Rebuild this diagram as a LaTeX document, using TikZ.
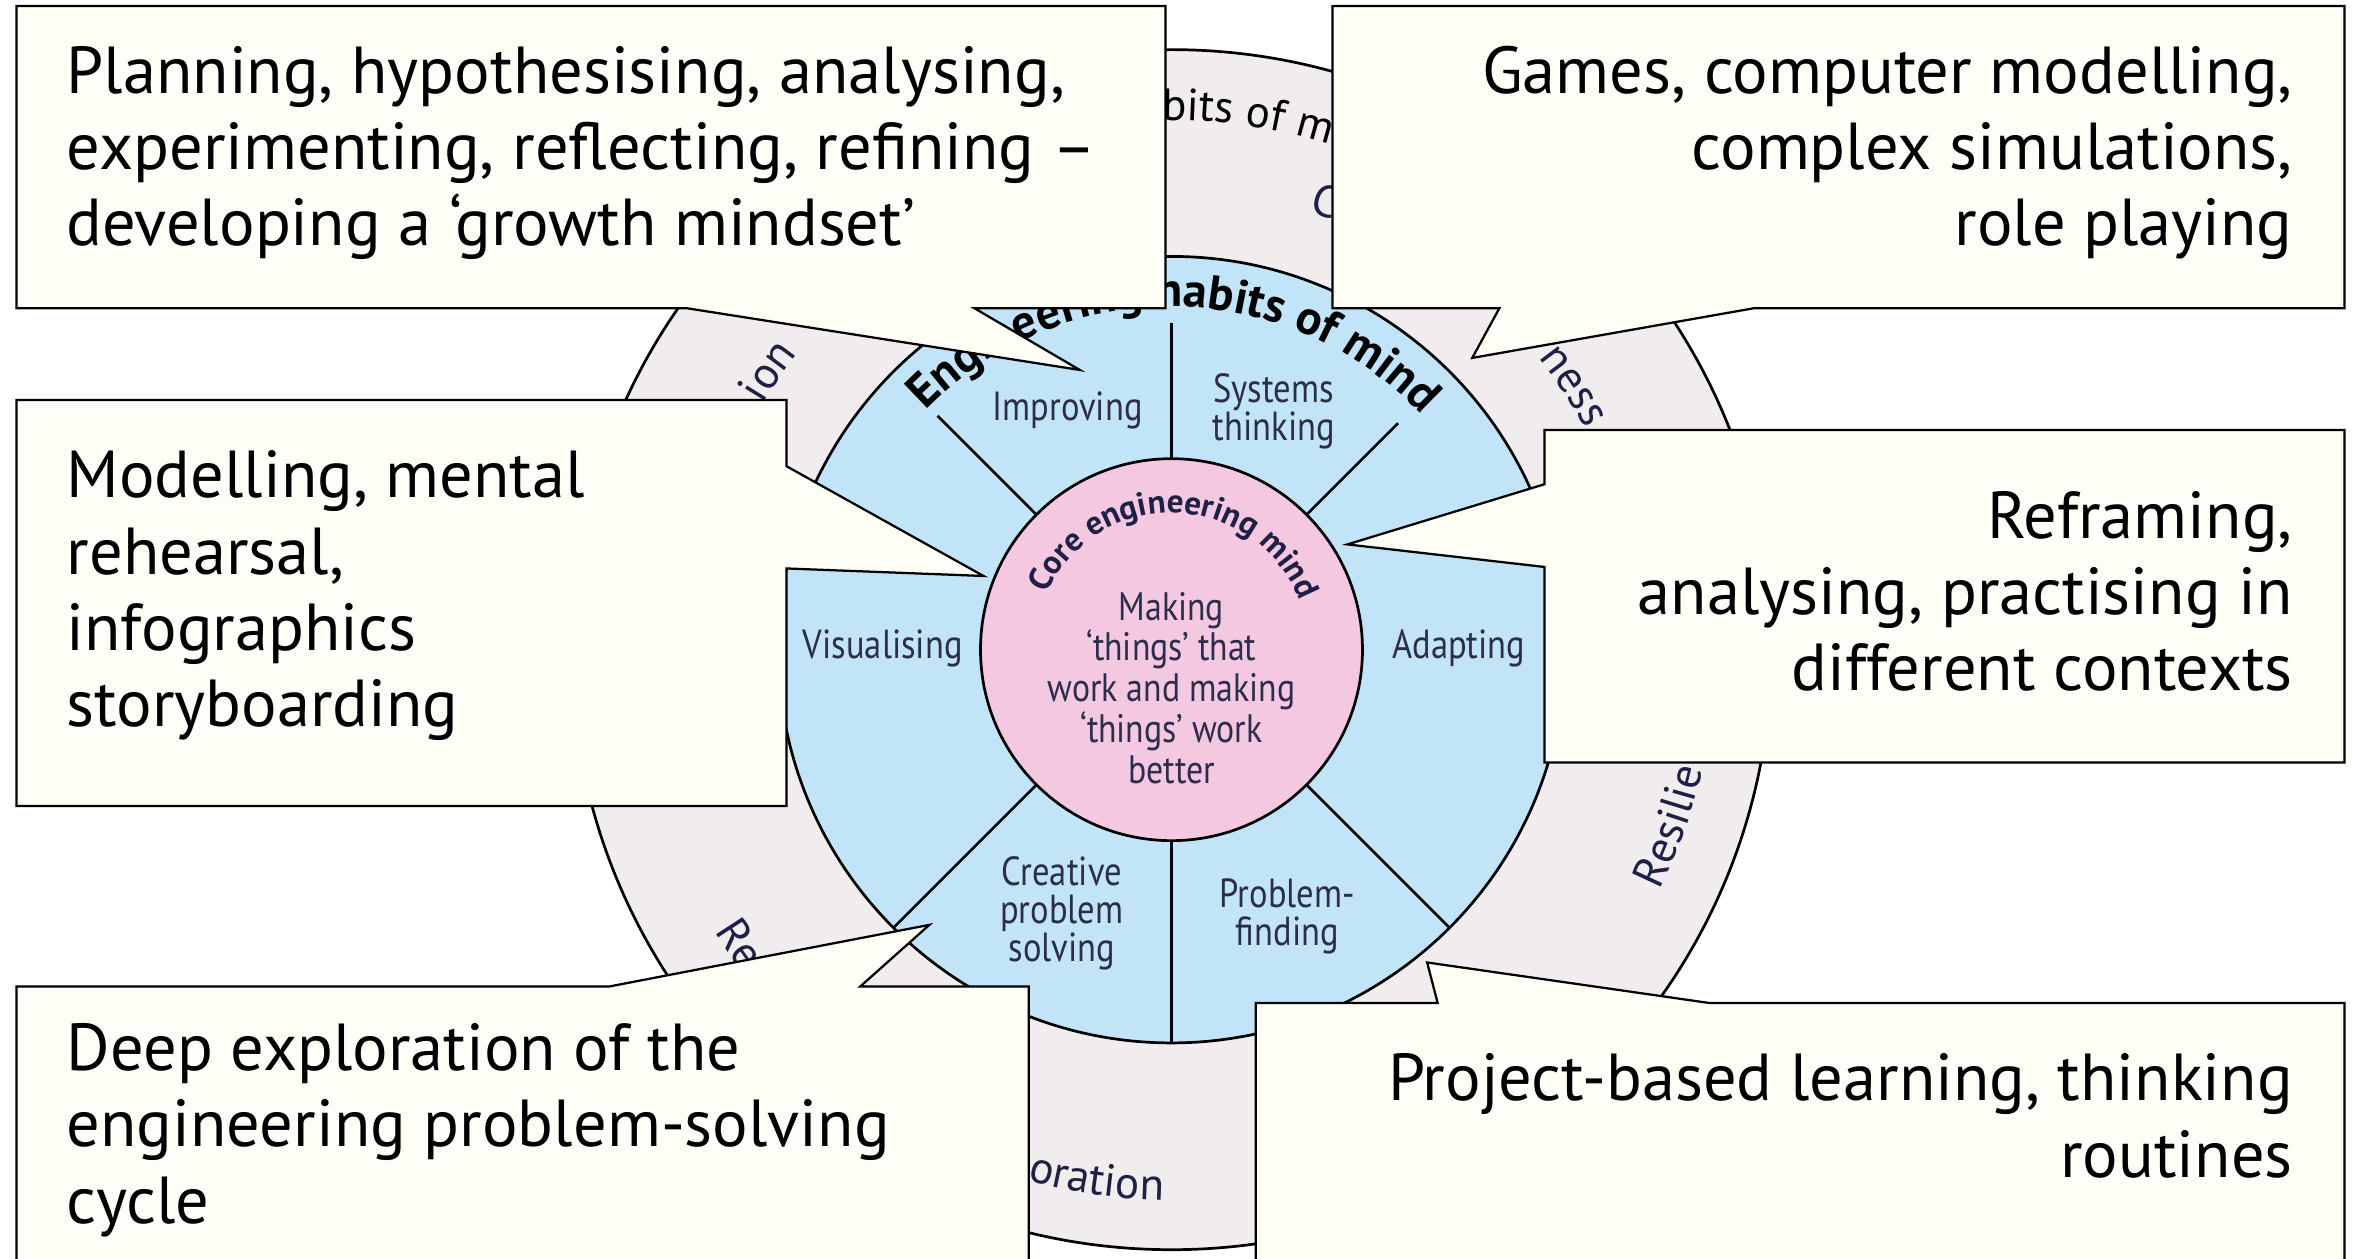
\documentclass[tikz,border=0pt]{standalone}
\usepackage{fontspec}
\setmainfont{PT Sans}
\newfontfamily\cfont{PT Sans}
\newfontfamily\dfont[FakeStretch=0.85]{PT Sans}
\newfontfamily\ofont{PT Sans}
\usetikzlibrary{decorations.text}
\definecolor{ringgray}{RGB}{241,237,239}
\definecolor{ringblue}{RGB}{194,228,248}
\definecolor{corepink}{RGB}{243,200,224}
\definecolor{callfill}{RGB}{254,254,246}
\definecolor{labelink}{RGB}{44,44,76}
\definecolor{outerink}{RGB}{30,32,70}
\begin{document}
\begin{tikzpicture}[x=0.5pt,y=0.5pt,
  circ/.style={draw=black,line width=0.9pt},
  divider/.style={draw=black,line width=0.9pt},
  callout/.style={draw=black,fill=callfill,line width=0.75pt,line join=miter},
  ctext/.style={inner sep=0pt,font=\fontsize{22.1}{25.35}\selectfont\cfont,text=black},
  ltext/.style={ctext,align=left,anchor=base west},
  rtext/.style={ctext,align=right,anchor=base east},
  seclabel/.style={inner sep=0pt,align=center,text=labelink,font=\fontsize{13.5}{12.6}\selectfont\dfont},
  coretext/.style={inner sep=0pt,align=center,text=labelink,font=\fontsize{13.2}{13.6}\selectfont\dfont},
  single/.style={inner sep=0pt},
]
\useasboundingbox (0,0) rectangle (1568,-837);
\fill[white] (0,0) rectangle (1568,-837);
\clip (0,0) rectangle (1568,-837);

% ---------- wheel ----------
\begin{scope}[shift={(779,-432)}]
  \coordinate (O) at (0,0);
  \fill[ringgray] (O) circle[radius=399];
  \draw[circ] (O) circle[radius=399];
  \fill[ringblue] (O) circle[radius=261.5];
  \draw[circ] (O) circle[radius=261.5];
  \draw[divider] (90:127) -- (90:217);
  \draw[divider] (135:127) -- (135:220);
  \draw[divider] (45:127) -- (45:213);
  \draw[divider] (225:127) -- (225:261.5);
  \draw[divider] (270:127) -- (270:261.5);
  \draw[divider] (315:127) -- (315:261.5);
  \fill[corepink] (O) circle[radius=127];
  \draw[circ] (O) circle[radius=127];

  % curved titles
  \path[decorate,decoration={text along path,text align=center,
    text={|\fontsize{16}{17}\selectfont\bfseries\cfont|Engineering habits of mind}}]
    (179:228) arc[start angle=179,end angle=0,radius=228];
  \path[decorate,decoration={text along path,text align=center,
    text={|\fontsize{11}{12}\selectfont\bfseries\cfont\color{outerink}|Core engineering mind}}]
    (178.5:91) arc[start angle=178.5,end angle=-1.5,radius=91];

  % outer ring fragments
  \path[decorate,decoration={text along path,text align=left,
    text={|\fontsize{15}{16}\selectfont\ofont\color{black}|bits of m}}]
    (91:352) arc[start angle=91,end angle=30,radius=352];
  \path[decorate,decoration={text along path,text align=left,
    text={|\fontsize{15}{16}\selectfont\ofont\color{outerink}|ness}}]
    (38.5:312) arc[start angle=38.5,end angle=-20,radius=312];
  \path[decorate,decoration={text along path,text align=left,
    text={|\fontsize{15}{16}\selectfont\ofont\color{outerink}|ion}}]
    (149:317) arc[start angle=149,end angle=100,radius=317];
  \path[decorate,decoration={text along path,text align=left,
    text={|\fontsize{15}{16}\selectfont\ofont\color{outerink}|Resilie}}]
    (333.7:362) arc[start angle=333.7,end angle=380,radius=362];
  \path[decorate,decoration={text along path,text align=left,
    text={|\fontsize{15}{16}\selectfont\ofont\color{outerink}|oration}}]
    (254.8:366) arc[start angle=254.8,end angle=300,radius=366];
  \path[decorate,decoration={text along path,text align=left,
    text={|\fontsize{15}{16}\selectfont\ofont\color{outerink}|Re}}]
    (211.6:357) arc[start angle=211.6,end angle=260,radius=357];
  \node[single,rotate=-19,text=outerink,font=\fontsize{15}{16}\selectfont\ofont] (cfrag) at (71:316) {C};
\end{scope}

% sector labels
\node[seclabel] (improving) at (710,-273) {Improving};
\node[seclabel] (systems) at (847,-273.5) {Systems\\thinking};
\node[seclabel] (visual) at (587,-431) {Visualising};
\node[seclabel] (adapt) at (970,-431) {Adapting};
\node[seclabel] (creative) at (706,-607.5) {Creative\\problem\\solving};
\node[seclabel] (probfind) at (856,-609.5) {Problem-\\finding};
\node[coretext] (core) at (779,-457.5) {Making\\‘things’ that\\work and making\\‘things’ work\\better};

% ---------- callouts ----------
\draw[callout] (11,-4) -- (775,-4) -- (775,-205) -- (648,-205) -- (718,-246) -- (457,-205) -- (11,-205) -- cycle;
\node[ltext] (ta) at (44,-163.4) {Planning, hypothesising, analysing,\\experimenting, reflecting, refining –\\developing a ‘growth mindset’};

\draw[callout] (886,-4) -- (1559,-4) -- (1559,-205) -- (1166,-205) -- (979,-238) -- (997,-205) -- (886,-205) -- cycle;
\node[rtext] (tb) at (1525,-163.4) {Games, computer modelling,\\complex simulations,\\role playing};

\draw[callout] (11,-266) -- (523,-266) -- (523,-310) -- (654,-383) -- (523,-378) -- (523,-536) -- (11,-536) -- cycle;
\node[ltext] (tc) at (44,-483.1) {Modelling, mental\\rehearsal,\\infographics\\storyboarding};

\draw[callout] (1027,-286) -- (1559,-286) -- (1559,-507) -- (1027,-507) -- (1027,-377) -- (896,-362) -- (1027,-322) -- cycle;
\node[rtext] (td) at (1525,-459.4) {Reframing,\\analysing, practising in\\different contexts};

\draw[callout] (11,-656) -- (405,-656) -- (618,-615) -- (572,-656) -- (684,-656) -- (684,-850) -- (11,-850) -- cycle;
\node[ltext] (te) at (44,-813.4) {Deep exploration of the\\engineering problem-solving\\cycle};

\draw[callout] (835,-667) -- (956,-667) -- (949,-640) -- (1137,-667) -- (1559,-667) -- (1559,-850) -- (835,-850) -- cycle;
\node[rtext] (tf) at (1525,-782.7) {Project-based learning, thinking\\routines};
\end{tikzpicture}
\end{document}
